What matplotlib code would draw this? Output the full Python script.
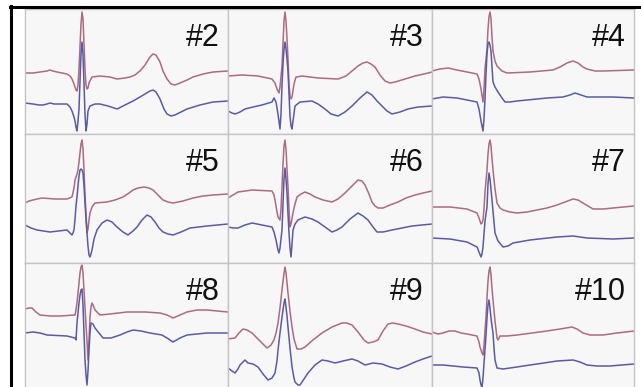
import matplotlib
matplotlib.use("Agg")
import matplotlib.pyplot as plt
from matplotlib.lines import Line2D

# waveform samples: (time, depth) in panel units, depth grows downward
red_2 = [(0,64),(8,64),(15,63),(22,62),(25,61),(28,62),(32,63),(42,65),(45,67),(47,70),(49,75),(50,78),
         (51,81),(52,82),(53,76),(54,60),(55,38),(56,15),(57,3),(58,10),(59,35),(60,60),(61,76),(62,80),
         (63,79),(64,74),(67,68),(75,67),(85,68),(92,70),(100,69),(105,68),(110,66),(115,62),(120,56),
         (125,48),(128,45),(131,46),(135,53),(138,62),(142,70),(146,75),(150,76),(155,74),(162,71),
         (168,68),(178,65),(188,63),(203,62)]
blue_2 = [(0,94),(8,95),(14,96),(18,96),(22,95),(25,94),(29,95),(33,95),(42,95),(45,98),(47,102),
          (49,108),(50,112),(51,118),(52,122),(53,112),(54,100),(55,72),(56,45),(57,33),(58,45),(59,75),
          (60,105),(61,122),(62,115),(63,102),(65,97),(70,95),(75,95),(83,97),(92,100),(100,96),(108,92),
          (115,88),(120,85),(125,82),(128,81),(131,83),(135,90),(139,100),(142,105),(146,107),(150,106),
          (156,103),(162,100),(175,96),(188,93),(203,92)]

red_3 = [(0,67),(14,66),(30,67),(44,70),(47,74),(49,80),(51,84),(52,78),(54,57),(55,35),(56,12),(57,3),
         (58,12),(59,30),(60,50),(61,75),(62,87),(63,90),(64,88),(66,75),(68,68),(74,67),(90,69),(110,70),
         (118,67),(124,62),(130,57),(135,54),(139,53),(143,55),(147,58),(152,66),(157,72),(162,74),
         (167,73),(177,70),(187,67),(196,65),(204,63)]
blue_3 = [(0,102),(4,104),(7,105),(12,103),(17,100),(25,98),(34,96),(44,93),(46,89),(48,93),(50,105),
          (52,120),(53,105),(54,77),(55,55),(56,40),(57,33),(58,40),(59,50),(60,62),(61,85),(62,107),
          (63,117),(64,120),(65,112),(67,97),(72,93),(84,92),(90,95),(97,100),(103,105),(110,107),
          (117,103),(124,97),(132,89),(139,83),(144,86),(149,92),(154,97),(159,102),(164,105),(172,103),
          (180,100),(190,98),(204,97)]

red_4 = [(0,62),(8,60),(16,59),(25,61),(35,63),(45,65),(47,70),(49,80),(51,93),(52,80),(53,60),(55,40),
         (56,20),(57,8),(58,3),(59,10),(60,28),(61,42),(63,52),(65,57),(70,62),(75,64),(98,63),(121,61),
         (128,58),(135,54),(141,52),(146,54),(151,58),(155,60),(163,62),(171,62),(202,61)]
blue_4 = [(0,90),(11,88),(25,89),(45,93),(47,100),(49,112),(51,122),(52,110),(53,90),(54,65),(55,45),
          (56,35),(57,33),(58,36),(59,42),(60,58),(61,73),(63,78),(66,83),(70,89),(73,93),(78,93),(85,92),
          (115,89),(131,88),(138,86),(143,84),(149,86),(155,88),(181,88),(202,89)]

red_5 = [(0,69),(4,67),(8,66),(12,65),(17,64),(30,65),(42,65),(47,63),(49,54),(50,46),(52,40),(53,36),
         (54,28),(55,19),(56,10),(57,6),(58,15),(59,36),(60,60),(61,79),(62,99),(63,95),(64,86),(65,79),
         (67,73),(70,69),(82,68),(90,66),(98,63),(104,59),(108,56),(113,54),(119,53),(124,54),(128,56),
         (133,61),(138,66),(143,68),(148,69),(158,67),(168,64),(178,62),(188,61),(203,60)]
blue_5 = [(0,91),(6,94),(12,96),(25,98),(42,96),(46,100),(47,101),(48,99),(49,96),(50,85),(51,72),
          (52,63),(53,52),(54,42),(55,36),(56,35),(57,36),(58,39),(59,52),(60,69),(61,85),(62,99),
          (63,112),(64,121),(65,123),(66,120),(67,116),(69,105),(72,96),(77,89),(82,86),(87,88),(92,93),
          (98,98),(103,101),(108,97),(112,93),(117,86),(122,81),(126,83),(130,88),(134,94),(138,98),
          (143,100),(148,101),(156,98),(165,94),(182,92),(203,90)]

red_6 = [(0,64),(5,61),(10,58),(17,57),(24,56),(44,57),(46,61),(47,66),(49,78),(50,83),(52,86),(53,75),
         (54,53),(55,30),(56,12),(57,6),(58,15),(59,35),(60,53),(61,75),(62,93),(63,90),(65,79),(67,70),
         (69,63),(73,60),(77,58),(82,60),(87,63),(95,66),(104,68),(110,65),(117,59),(124,52),(130,46),
         (134,47),(137,51),(141,60),(144,68),(147,72),(150,74),(155,74),(162,71),(170,68),(178,64),
         (187,61),(195,59),(204,57)]
blue_6 = [(0,93),(5,94),(10,94),(17,91),(24,89),(34,91),(44,93),(46,98),(48,106),(50,116),(51,119),
          (52,114),(53,105),(54,96),(55,70),(56,45),(57,34),(58,45),(59,59),(60,80),(61,99),(62,114),
          (63,123),(64,110),(65,96),(67,90),(70,86),(77,83),(84,85),(90,88),(97,93),(104,98),(109,96),
          (114,93),(122,85),(130,79),(135,82),(140,86),(145,93),(149,98),(155,98),(164,96),(174,94),
          (184,92),(204,90)]

red_7 = [(0,73),(18,73),(35,75),(45,79),(47,84),(49,90),(50,89),(51,86),(52,75),(53,58),(55,36),(56,20),
         (57,10),(58,6),(59,12),(60,24),(61,36),(63,55),(65,69),(68,74),(71,76),(78,78),(85,79),(95,78),
         (105,76),(115,74),(125,71),(133,68),(141,65),(146,66),(151,69),(156,72),(161,75),(171,75),
         (181,74),(202,72)]
blue_7 = [(0,104),(18,105),(35,108),(45,113),(47,118),(49,123),(50,120),(51,113),(52,100),(53,87),
          (55,73),(56,50),(57,39),(58,45),(59,55),(60,66),(62,88),(63,99),(66,107),(71,113),(76,112),
          (81,109),(98,106),(125,103),(141,102),(155,104),(181,105),(202,104)]

red_8 = [(0,46),(4,45),(7,45),(11,49),(15,52),(25,53),(35,53),(50,52),(51,47),(52,40),(53,30),(54,20),
         (55,10),(56,4),(57,2),(58,10),(59,27),(60,45),(61,62),(62,78),(63,97),(64,78),(65,54),(66,44),
         (67,40),(68,42),(70,47),(75,52),(85,51),(102,49),(120,49),(135,50),(142,52),(148,55),(155,52),
         (162,49),(172,47),(182,47),(203,49)]
blue_8 = [(0,70),(8,69),(15,70),(22,72),(42,73),(50,75),(51,77),(52,60),(54,40),(55,32),(56,27),(57,26),
          (58,42),(59,70),(60,97),(61,112),(62,122),(63,108),(64,87),(65,70),(66,60),(68,61),(70,65),
          (74,70),(78,75),(86,75),(95,72),(102,69),(108,67),(116,68),(125,70),(137,72),(142,75),(148,79),
          (155,75),(162,72),(182,70),(203,70)]

red_9 = [(0,76),(7,75),(11,70),(15,66),(19,67),(24,70),(31,77),(39,85),(43,82),(46,77),(48,70),(50,60),
         (52,45),(54,27),(56,10),(57,4),(58,10),(59,20),(60,30),(62,48),(64,64),(66,76),(69,86),(73,86),
         (77,84),(85,77),(94,70),(104,64),(114,60),(119,60),(124,62),(130,69),(136,77),(140,80),(145,79),
         (150,77),(155,68),(160,61),(165,60),(170,61),(178,63),(187,66),(195,69),(204,71)]
blue_9 = [(0,105),(4,108),(7,110),(10,106),(12,102),(17,97),(20,100),(25,101),(30,104),(35,111),
          (40,117),(44,115),(47,110),(49,98),(50,87),(52,70),(54,54),(56,40),(57,36),(58,44),(59,53),
          (60,64),(62,85),(64,104),(66,115),(67,119),(70,122),(72,122),(76,116),(80,110),(87,102),
          (94,97),(100,98),(107,100),(115,98),(124,96),(130,98),(137,102),(145,100),(154,101),(162,104),
          (170,106),(178,103),(187,99),(195,96),(204,93)]

red_10 = [(0,69),(6,71),(11,70),(17,68),(23,68),(29,70),(35,71),(45,73),(47,79),(48,84),(50,90),(51,92),
          (52,82),(53,68),(54,54),(55,35),(56,18),(57,8),(58,4),(59,12),(60,25),(61,37),(63,58),(65,75),
          (66,77),(68,73),(75,73),(85,72),(100,70),(115,68),(128,66),(140,64),(145,66),(151,70),(158,72),
          (171,72),(185,70),(202,68)]
blue_10 = [(0,102),(11,102),(21,103),(31,104),(45,105),(47,110),(48,117),(49,122),(50,124),(51,115),
           (52,100),(53,87),(54,72),(55,55),(56,42),(57,37),(58,45),(59,55),(60,63),(61,70),(62,85),
           (63,97),(65,105),(71,106),(85,104),(98,102),(112,100),(125,98),(141,97),(148,99),(155,102),
           (165,103),(178,103),(190,102),(202,101)]

labels = ["#2", "#3", "#4", "#5", "#6", "#7", "#8", "#9", "#10"]
reds = [red_2, red_3, red_4, red_5, red_6, red_7, red_8, red_9, red_10]
blues = [blue_2, blue_3, blue_4, blue_5, blue_6, blue_7, blue_8, blue_9, blue_10]

W, H = 641, 387
col_left = [25, 228, 432]
col_w = [203, 204, 202]
row_top = [9, 134, 263]
row_h = [125, 129, 129]

fig = plt.figure(figsize=(W / 100, H / 100), dpi=100)
fig.patch.set_facecolor("white")

for i in range(9):
    r, c = divmod(i, 3)
    x0, w = col_left[c], col_w[c]
    y0, h = row_top[r], row_h[r]
    ax = fig.add_axes([x0 / W, 1 - (y0 + h) / H, w / W, h / H])
    ax.set_facecolor("#f7f7f7")
    for s in ax.spines.values():
        s.set_color("#c4c4c4")
        s.set_linewidth(1.0)
    ax.set_xticks([])
    ax.set_yticks([])
    ax.set_xlim(0, w)
    ax.set_ylim(h, 0)
    ax.plot([p[0] for p in reds[i]], [p[1] for p in reds[i]], color="#ad6a80", lw=1.1,
            solid_joinstyle="round")
    ax.plot([p[0] for p in blues[i]], [p[1] for p in blues[i]], color="#5a5aa6", lw=1.1,
            solid_joinstyle="round")
    ax.text(w - 8, 14, labels[i], ha="right", va="top", fontsize=22,
            family="Liberation Sans", color="#111111")

# black frame on the left and top
fig.add_artist(Line2D([11 / W, 11 / W], [0, 1 - 6 / H], color="black", lw=2.2,
                      transform=fig.transFigure))
fig.add_artist(Line2D([10 / W, 1], [1 - 7 / H, 1 - 7 / H], color="black", lw=2.2,
                      transform=fig.transFigure))

fig.savefig("out.png", dpi=100)
